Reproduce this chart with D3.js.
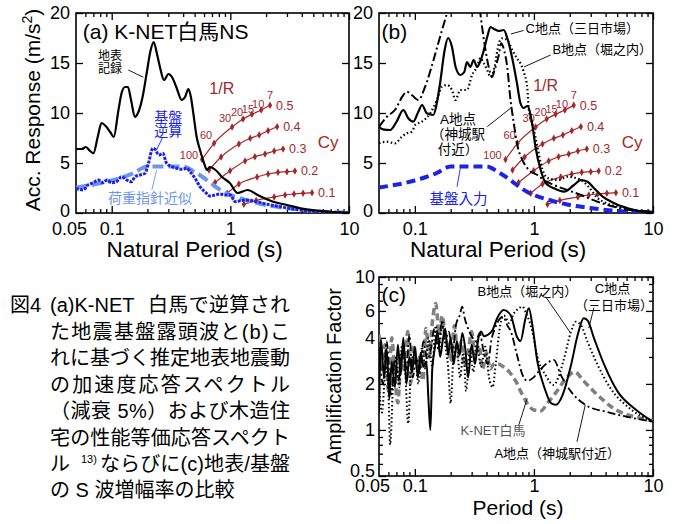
<!DOCTYPE html>
<html>
<head>
<meta charset="utf-8">
<script src="https://cdn.jsdelivr.net/npm/d3@7"></script>
<style>
  body { margin: 0; background: #fff; }
  svg { display: block; }
  text { font-family: "Liberation Sans", Arial, "Noto Sans CJK JP", sans-serif; }
</style>
</head>
<body>
<script>
// (a) K-NET白馬NS: surface record, back-calculated base, code approximation
var aSurfT = [0.05,0.056,0.0605,0.0657,0.070,0.0762,0.082,0.089,0.097,0.104,0.114,0.121,0.1295,0.137,0.1455,0.157,0.166,0.182,0.197,0.213,0.226,0.240,0.255,0.276,0.301,0.322,0.35,0.39,0.415,0.443,0.465,0.487,0.52,0.555,0.6,0.635,0.67,0.75,0.85,0.99,1.15,1.4,1.7,2.3,3.0,3.9,5.4,7.3,10];
var aSurfV = [6.4,6.4,6.6,6.2,5.97,7.6,9.0,8.7,8.1,7.6,10.3,11.97,12.6,12.6,11.3,9.6,9.97,11.6,13.97,16.3,17.1,15.97,14.6,13.3,13.9,13.6,12.6,11.3,11.6,12.4,11.6,10.0,7.6,6.3,5.0,4.3,4.6,4.3,3.6,3.0,2.0,2.3,1.8,1.13,0.8,0.47,0.23,0.1,0.03];
var aBaseT = [0.05,0.0575,0.063,0.07,0.077,0.085,0.091,0.1,0.11,0.121,0.134,0.147,0.157,0.173,0.191,0.204,0.222,0.232,0.25,0.27,0.29,0.322,0.353,0.39,0.43,0.457,0.504,0.555,0.61,0.674,0.743,0.82,0.90,0.995,1.10,1.21,1.38,1.66,2.0,2.8,3.88,5.4,10];
var aBaseV = [2.47,2.3,2.8,3.03,3.3,3.03,3.3,3.03,3.13,3.63,3.3,3.13,3.63,3.8,3.97,4.97,6.47,6.37,5.8,5.97,4.97,4.63,4.47,4.37,4.47,4.13,3.47,2.63,2.13,1.7,1.8,1.9,1.8,1.8,1.13,1.23,1.3,1.13,0.9,0.57,0.3,0.13,0.03];
var approxT = [0.05,0.1,0.15,0.2,0.4,0.5,0.6,0.7,0.88,1.0,1.3,1.9,3.2,5,10];
var approxV = [2.55,3.25,3.95,4.65,4.65,4.1,3.5,2.9,2.1,1.8,1.35,0.85,0.45,0.2,0.05];

// (b) estimated surface spectra at sites A, B, C
var bCT = [0.05,0.054,0.062,0.07,0.08,0.088,0.097,0.107,0.115,0.126,0.143,0.153,0.163,0.178,0.19,0.205,0.22,0.241,0.26,0.274,0.292,0.312,0.333,0.355,0.374,0.405,0.432,0.467,0.507,0.558,0.597,0.657,0.72,0.77,0.82,0.88,0.97,1.03,1.14,1.26,1.47,1.79,2.17,2.48,2.82,3.2,3.78,4.73,6.97,10];
var bCV = [8.63,8.37,8.3,9.1,10.3,9.47,9.13,10.13,10.8,9.97,9.8,11.0,13.0,16.3,17.5,16.6,14.6,13.8,14.1,15.1,14.6,15.3,14.6,15.2,16.0,17.6,18.6,18.37,18.2,18.3,17.5,15.5,13.0,11.0,10.5,10.7,8.8,6.63,4.3,2.97,2.47,2.13,2.8,3.3,3.13,2.47,1.63,0.97,0.3,0.05];
var bBT = [0.05,0.0581,0.0682,0.0777,0.0856,0.0943,0.1006,0.1146,0.1346,0.153,0.169,0.186,0.205,0.219,0.241,0.274,0.302,0.333,0.355,0.378,0.405,0.432,0.467,0.507,0.541,0.597,0.657,0.72,0.77,0.82,0.88,0.907,0.97,1.07,1.14,1.3,1.6,1.91,2.48,2.91,3.42,4.1,5.74,10];
var bBV = [6.97,7.13,6.97,7.63,7.97,8.13,8.8,9.13,9.97,11.3,12.63,12.8,12.3,11.3,12.3,12.3,13.8,14.6,15.5,15.0,14.3,13.6,14.6,16.97,17.47,17.3,16.3,15.47,14.97,14.13,12.47,10.3,8.97,6.63,4.97,3.5,3.3,3.63,3.3,2.55,1.5,0.97,0.47,0.1];
var bAT = [0.05,0.058,0.068,0.0801,0.0856,0.0943,0.107,0.122,0.1435,0.163,0.186,0.22,0.28,0.345,0.367,0.392,0.417,0.445,0.467,0.507,0.531,0.555,0.597,0.636,0.678,0.72,0.80,0.907,1.07,1.21,1.47,1.91,2.48,3.42,5.38,10];
var bAV = [8.6,9.6,10.3,11.8,12.13,11.8,11.3,12.63,15.3,17.63,19.97,23,24,21,18.6,16.3,14.6,13.6,14.3,15.8,16.97,16.5,14.6,11.3,8.97,6.97,5.3,4.3,3.8,3.3,2.8,2.3,1.8,1.13,0.47,0.1];

// performance equivalent spectra of wooden houses: Cy levels, 1/R markers
var cyLevels = ["0.5", "0.4", "0.3", "0.2", "0.1"];
var rLabels = ["100", "60", "30", "20", "15", "10", "7"];
var netT = [
  [0.577,0.729,1.034,1.28,1.52,1.82,2.16],
  [0.661,0.835,1.18,1.47,1.75,2.08,2.48],
  [0.743,0.995,1.33,1.61,1.96,2.34,2.78],
  [0.94,1.18,1.68,2.08,2.52,3.0,3.5],
  [1.30,1.65,2.34,2.89,3.44,4.1,4.88]
];
var netSa = [
  [5.35,6.97,8.6,9.4,9.87,10.3,10.77],
  [4.3,5.6,6.9,7.47,7.8,8.23,8.63],
  [3.05,4.23,5.2,5.63,5.9,6.2,6.4],
  [1.97,2.9,3.6,3.9,4.07,4.13,4.2],
  [0.87,1.25,1.6,1.8,1.9,1.97,2.03]
];

// (c) surface / base amplification
var cCT = [0.05,0.052,0.055,0.058,0.061,0.064,0.068,0.072,0.076,0.08,0.085,0.09,0.095,0.1,0.106,0.112,0.118,0.125,0.13,0.135,0.14,0.147,0.155,0.163,0.172,0.18,0.19,0.2,0.212,0.225,0.238,0.25,0.265,0.28,0.3,0.32,0.34,0.36,0.38,0.405,0.45,0.491,0.558,0.637,0.72,0.77,0.85,0.907,0.97,1.07,1.23,1.40,1.53,1.74,2.05,2.33,2.62,2.82,3.2,3.9,5.05,6.98,10];
var cCV = [1.3,3.9,2.2,3.4,1.6,2.8,1.9,3.6,2.3,4.0,2.0,3.0,2.4,3.5,2.2,3.2,2.6,2.8,1.6,1.0,2.5,3.4,4.4,3.0,3.9,4.6,3.1,4.0,2.7,3.8,3.1,4.3,3.4,2.2,3.6,2.7,3.9,4.4,4.1,4.17,4.5,5.37,6.08,5.64,4.07,3.81,5.37,6.24,4.85,2.79,1.87,1.49,1.46,1.69,2.66,4.17,5.37,5.2,3.97,2.66,1.78,1.38,1.13];
var cBT = [0.05,0.053,0.057,0.06,0.062,0.066,0.07,0.074,0.078,0.083,0.088,0.093,0.1,0.107,0.115,0.123,0.13,0.14,0.15,0.16,0.17,0.18,0.19,0.2,0.21,0.225,0.24,0.255,0.27,0.29,0.31,0.33,0.36,0.39,0.42,0.45,0.48,0.52,0.56,0.62,0.68,0.74,0.8,0.86,0.97,1.07,1.25,1.47,1.6,1.79,2.05,2.25,2.48,2.82,3.43,4.4,6.4,10];
var cBV = [2.0,1.3,2.6,1.8,0.8,2.2,3.0,1.9,3.6,2.4,1.1,2.6,3.2,2.0,3.5,2.5,4.0,2.6,4.8,3.3,5.2,3.6,2.6,1.5,2.8,3.5,2.2,3.2,1.8,3.4,2.4,3.7,2.6,3.5,2.2,1.9,2.8,4.8,5.6,5.0,5.8,6.2,6.4,5.8,4.4,3.0,2.29,1.97,2.2,2.93,4.4,5.1,4.85,3.77,2.66,1.87,1.38,1.13];
var cAT = [0.05,0.054,0.058,0.063,0.068,0.073,0.079,0.085,0.09,0.096,0.103,0.11,0.118,0.127,0.136,0.146,0.157,0.168,0.18,0.193,0.207,0.222,0.238,0.25,0.262,0.28,0.3,0.325,0.35,0.38,0.41,0.44,0.47,0.52,0.55,0.6,0.64,0.72,0.8,0.88,0.99,1.14,1.3,1.47,1.68,2.05,2.7,4.1,6,10];
var cAV = [3.5,2.0,3.8,1.7,2.9,2.1,3.4,2.5,4.2,2.2,3.0,2.4,3.8,2.9,3.3,4.6,3.4,5.0,3.9,4.4,3.2,4.9,5.6,6.4,5.4,4.6,4.1,3.8,4.3,3.2,2.7,3.9,4.6,5.37,5.5,4.8,4.4,3.1,2.3,2.1,2.2,2.5,2.75,2.87,2.29,1.78,1.46,1.31,1.22,1.13];
var cKT = [0.05,0.053,0.056,0.06,0.064,0.068,0.072,0.077,0.082,0.087,0.092,0.098,0.104,0.11,0.117,0.124,0.132,0.14,0.15,0.16,0.17,0.18,0.19,0.2,0.215,0.23,0.245,0.26,0.28,0.3,0.32,0.345,0.37,0.4,0.43,0.46,0.5,0.55,0.62,0.7,0.8,0.9,1.0,1.14,1.3,1.55,1.8,2.2,2.6,3.2,4.7,8,10];
var cKV = [4.2,2.5,3.6,1.8,4.0,2.2,1.5,3.2,2.4,4.4,2.0,3.6,2.6,3.0,2.1,4.6,3.0,5.0,6.7,4.2,5.6,4.0,3.5,2.8,4.8,3.0,3.8,2.6,3.2,4.4,3.0,3.6,2.5,3.2,2.5,2.7,2.7,2.6,2.4,2.1,1.7,1.45,1.35,1.33,1.5,1.78,2.1,2.4,2.1,1.78,1.38,1.19,1.15];

// axis ticks
var majorT = [0.1, 1, 10];
var minorT = [0.06,0.07,0.08,0.09,0.2,0.3,0.4,0.5,0.6,0.7,0.8,0.9,2,3,4,5,6,7,8,9];
var accTicks = [0, 5, 10, 15, 20];
var ampLabels = [0.5, 1, 2, 4, 6, 10];
var ampMinor = [0.6,0.7,0.8,0.9,3,5,7,8,9];

var captionLines = ["た地震基盤露頭波と(b)こ", "れに基づく推定地表地震動", "の加速度応答スペクトル", "（減衰 5%）および木造住", "宅の性能等価応答スペクト"];

var red = "#a3282c",
  blue = "#1c22e6",
  lightBlue = "#6d95ef",
  gray = "#808080";

var svg = d3.select("body").append("svg")
  .attr("width", 678)
  .attr("height", 524);

var xA = d3.scaleLog().domain([0.05, 10]).range([76, 349]),
  xB = d3.scaleLog().domain([0.05, 10]).range([379, 653]),
  yAcc = d3.scaleLinear().domain([0, 20]).range([213, 13]),
  yAmp = d3.scaleLog().domain([0.5, 10]).range([476, 277]);

var font = "Liberation Sans, Arial, Noto Sans CJK JP, sans-serif";

function zip(t, v) {
  return t.map(function (d, i) { return [d, v[i]]; });
}

function frame(x, y, yMajor, yMinor) {
  var g = svg.append("g").attr("class", "frame");
  var xs = x.range(), ys = y.range();
  [[d3.axisBottom, ys[0]], [d3.axisTop, ys[1]]].forEach(function (a) {
    g.append("g").attr("transform", "translate(0," + a[1] + ")")
      .call(a[0](x).tickValues(minorT).tickSize(-4).tickFormat(""));
    g.append("g").attr("transform", "translate(0," + a[1] + ")")
      .call(a[0](x).tickValues(majorT).tickSize(-7).tickFormat(""));
  });
  [[d3.axisLeft, xs[0]], [d3.axisRight, xs[1]]].forEach(function (a) {
    g.append("g").attr("transform", "translate(" + a[1] + ",0)")
      .call(a[0](y).tickValues(yMajor).tickSize(-7).tickFormat(""));
    if (yMinor) g.append("g").attr("transform", "translate(" + a[1] + ",0)")
      .call(a[0](y).tickValues(yMinor).tickSize(-4).tickFormat(""));
  });
  g.selectAll(".domain").remove();
  g.selectAll(".tick line").attr("stroke-width", 1.3);
  g.append("rect")
    .attr("x", xs[0]).attr("y", ys[1])
    .attr("width", xs[1] - xs[0]).attr("height", ys[0] - ys[1])
    .attr("fill", "none").attr("stroke", "#000").attr("stroke-width", 1.6);
}

function xLabels(x, y, vals, pad) {
  var g = svg.append("g")
    .attr("transform", "translate(0," + y.range()[0] + ")")
    .call(d3.axisBottom(x).tickValues(vals).tickSize(0).tickPadding(pad).tickFormat(function (d) { return String(d); }));
  g.select(".domain").remove();
  g.attr("font-size", 18).attr("font-family", font);
  g.selectAll("text").filter(function (d) { return d === 0.05; }).attr("dx", -7);
}

function yLabels(x, y, vals, pad, lowShift) {
  var g = svg.append("g")
    .attr("transform", "translate(" + x.range()[0] + ",0)")
    .call(d3.axisLeft(y).tickValues(vals).tickSize(0).tickPadding(pad).tickFormat(function (d) { return String(d); }));
  g.select(".domain").remove();
  g.attr("font-size", 18).attr("font-family", font);
  g.selectAll("text").filter(function (d) { return d === vals[0]; }).attr("y", -lowShift);
}

function clipped(id, x, y) {
  svg.append("clipPath").attr("id", id).append("rect")
    .attr("x", x.range()[0]).attr("y", y.range()[1])
    .attr("width", x.range()[1] - x.range()[0])
    .attr("height", y.range()[0] - y.range()[1]);
  return svg.append("g").attr("clip-path", "url(#" + id + ")");
}

function curve(g, x, y, t, v, color, width, dash) {
  g.append("path").datum(zip(t, v))
    .attr("fill", "none")
    .attr("stroke", color)
    .attr("stroke-width", width)
    .attr("stroke-dasharray", dash || null)
    .attr("stroke-linejoin", "round")
    .attr("d", d3.line()
      .x(function (d) { return x(d[0]); })
      .y(function (d) { return y(d[1]); })
      .curve(d3.curveMonotoneX));
}

function txt(x, y, t, v, s, size, color, anchor) {
  return svg.append("text")
    .attr("x", x(t)).attr("y", y(v))
    .attr("font-size", size)
    .attr("fill", color || "#000")
    .attr("text-anchor", anchor || "start")
    .text(s);
}

function lead(x, y, t0, v0, t1, v1, color) {
  svg.append("line")
    .attr("x1", x(t0)).attr("y1", y(v0))
    .attr("x2", x(t1)).attr("y2", y(v1))
    .attr("stroke", color || "#000")
    .attr("stroke-width", 0.9);
}

var rOffset = [[-13, -4], [-8, -8], [-7, -9], [-6, -7], [-4, -5], [-3, -6], [0, -10]];

function network(x, y) {
  var g = svg.append("g").attr("class", "network");
  cyLevels.forEach(function (cy, i) {
    var pts = zip(netT[i], netSa[i]);
    g.append("path").datum(pts)
      .attr("fill", "none").attr("stroke", red).attr("stroke-width", 1.2)
      .attr("d", d3.line()
        .x(function (d) { return x(d[0]); })
        .y(function (d) { return y(d[1]); })
        .curve(d3.curveMonotoneX));
    g.selectAll(null).data(pts).enter().append("path")
      .attr("d", d3.symbol(d3.symbolDiamond, 16))
      .attr("fill", red)
      .attr("transform", function (d) { return "translate(" + x(d[0]) + "," + y(d[1]) + ")"; });
    var last = pts[pts.length - 1];
    g.append("text")
      .attr("x", x(last[0]) + 6).attr("y", y(last[1]))
      .attr("dy", "0.35em")
      .attr("font-size", 12.5).attr("fill", red)
      .text(cy);
  });
  zip(netT[0], netSa[0]).forEach(function (d, j) {
    g.append("text")
      .attr("x", x(d[0]) + rOffset[j][0]).attr("y", y(d[1]) + rOffset[j][1])
      .attr("dy", "0.35em")
      .attr("text-anchor", "middle")
      .attr("font-size", 11).attr("fill", red)
      .text(rLabels[j]);
  });
}

// ---- panel (a)
frame(xA, yAcc, accTicks);
xLabels(xA, yAcc, [0.05, 0.1, 1, 10], 9);
yLabels(xA, yAcc, accTicks, 6, 2);
network(xA, yAcc);
var gA = clipped("clipA", xA, yAcc);
curve(gA, xA, yAcc, approxT, approxV, lightBlue, 4, "11,5");
curve(gA, xA, yAcc, aBaseT, aBaseV, blue, 3, "3,1.2");
curve(gA, xA, yAcc, aSurfT, aSurfV, "#000", 2.2);

txt(xA, yAcc, 0.057, 17.4, "(a) K-NET白馬NS", 21);
txt(xA, yAcc, 0.0967, 15.35, "地表", 12, "#000", "middle");
txt(xA, yAcc, 0.0967, 14.0, "記録", 12, "#000", "middle");
lead(xA, yAcc, 0.138, 14.3, 0.185, 13.57);
txt(xA, yAcc, 0.30, 9.15, "基盤", 14, blue, "middle");
txt(xA, yAcc, 0.30, 7.7, "逆算", 14, blue, "middle");
lead(xA, yAcc, 0.268, 7.55, 0.24, 6.35, blue);
txt(xA, yAcc, 0.21, 1.0, "荷重指針近似", 14, lightBlue, "middle");
lead(xA, yAcc, 0.239, 4.3, 0.218, 2.3, lightBlue);
txt(xA, yAcc, 0.846, 11.9, "1/R", 16, red, "middle");
txt(xA, yAcc, 6.67, 6.5, "Cy", 17, red, "middle");

svg.append("text")
  .attr("transform", "translate(40,110) rotate(-90)")
  .attr("text-anchor", "middle")
  .attr("font-size", 21)
  .text("Acc. Response (m/s")
  .append("tspan").attr("font-size", 14).attr("dy", -8).text("2")
  .select(function () { return this.parentNode; })
  .append("tspan").attr("dy", 8).text(")");
txt(xA, yAcc, 0.5, -4.4, "Natural Period (s)", 22.5, "#000", "middle");

// ---- panel (b)
frame(xB, yAcc, accTicks);
xLabels(xB, yAcc, [0.1, 1, 10], 9);
yLabels(xB, yAcc, accTicks, 6, 2);
network(xB, yAcc);
var gB = clipped("clipB", xB, yAcc);
curve(gB, xB, yAcc, approxT, approxV, blue, 4, "9,5");
curve(gB, xB, yAcc, bAT, bAV, "#000", 2, "9,3,2,3");
curve(gB, xB, yAcc, bBT, bBV, "#000", 2.2, "1.5,2.5");
curve(gB, xB, yAcc, bCT, bCV, "#000", 2.2);

txt(xB, yAcc, 0.0525, 17.4, "(b)", 21);
txt(xB, yAcc, 0.851, 18.0, "C地点（三日市場）", 13);
lead(xB, yAcc, 0.818, 18.25, 0.64, 17.9);
txt(xB, yAcc, 1.43, 15.9, "B地点（堀之内）", 13);
lead(xB, yAcc, 1.38, 15.8, 0.824, 14.6);
txt(xB, yAcc, 0.23, 8.95, "A地点", 13.5, "#000", "middle");
txt(xB, yAcc, 0.23, 7.45, "（神城駅", 13.5, "#000", "middle");
txt(xB, yAcc, 0.23, 5.95, "付近）", 13.5, "#000", "middle");
lead(xB, yAcc, 0.405, 8.63, 0.636, 10.47);
txt(xB, yAcc, 0.233, 0.95, "基盤入力", 14.5, blue, "middle");
lead(xB, yAcc, 0.241, 4.47, 0.226, 2.63, blue);
txt(xB, yAcc, 1.255, 12.2, "1/R", 16, red, "middle");
txt(xB, yAcc, 6.67, 6.5, "Cy", 17, red, "middle");
txt(xB, yAcc, 0.5, -4.4, "Natural Period (s)", 22.5, "#000", "middle");

// ---- panel (c)
frame(xB, yAmp, ampLabels, ampMinor);
var gC = clipped("clipC", xB, yAmp);
xLabels(xB, yAmp, [0.05, 0.1, 1, 10], 3);
yLabels(xB, yAmp, ampLabels, 4, 5);
curve(gC, xB, yAmp, cKT, cKV, gray, 3.5, "7,4");
curve(gC, xB, yAmp, cAT, cAV, "#000", 1.8, "8,3,2,3");
curve(gC, xB, yAmp, cBT, cBV, "#000", 2, "1.5,2.5");
curve(gC, xB, yAmp, cCT, cCV, "#000", 2);

txt(xB, yAmp, 0.0525, 6.86, "(c)", 21);
txt(xB, yAmp, 0.88, 7.5, "B地点（堀之内）", 13, "#000", "middle");
lead(xB, yAmp, 1.255, 7.43, 2.04, 4.28);
txt(xB, yAmp, 4.57, 7.85, "C地点", 13, "#000", "middle");
txt(xB, yAmp, 4.7, 6.08, "（三日市場）", 13, "#000", "middle");
lead(xB, yAmp, 3.19, 6.3, 2.89, 4.63);
txt(xB, yAmp, 0.453, 0.927, "K-NET白馬", 13, "#555", "middle");
lead(xB, yAmp, 0.747, 1.08, 0.879, 1.61);
txt(xB, yAmp, 1.57, 0.656, "A地点（神城駅付近）", 13, "#000", "middle");
lead(xB, yAmp, 2.3, 0.837, 2.7, 1.46);

svg.append("text")
  .attr("transform", "translate(341,376) rotate(-90)")
  .attr("text-anchor", "middle")
  .attr("font-size", 20)
  .text("Amplification Factor");
svg.append("text")
  .attr("x", 518).attr("y", 515)
  .attr("text-anchor", "middle")
  .attr("font-size", 21)
  .text("Period (s)");

// ---- caption
var cap = svg.append("g").attr("font-size", 20);
cap.append("text").attr("x", 10).attr("y", 312).attr("textLength", 31).attr("lengthAdjust", "spacing").text("図4");
cap.append("text").attr("x", 50).attr("y", 312).text("(a)K-NET");
cap.append("text").attr("x", 148).attr("y", 312).attr("textLength", 142).attr("lengthAdjust", "spacing").text("白馬で逆算され");
captionLines.forEach(function (s, i) {
  cap.append("text")
    .attr("x", 50).attr("y", 339 + i * 26.4)
    .attr("textLength", 240).attr("lengthAdjust", "spacing")
    .text(s);
});
cap.append("text").attr("x", 50).attr("y", 471).text("ル");
cap.append("text").attr("x", 81).attr("y", 463).attr("font-size", 11).text("13)");
cap.append("text").attr("x", 100).attr("y", 471).attr("textLength", 190).attr("lengthAdjust", "spacing").text("ならびに(c)地表/基盤");
cap.append("text").attr("x", 50).attr("y", 497).text("の S 波増幅率の比較");
</script>
</body>
</html>
